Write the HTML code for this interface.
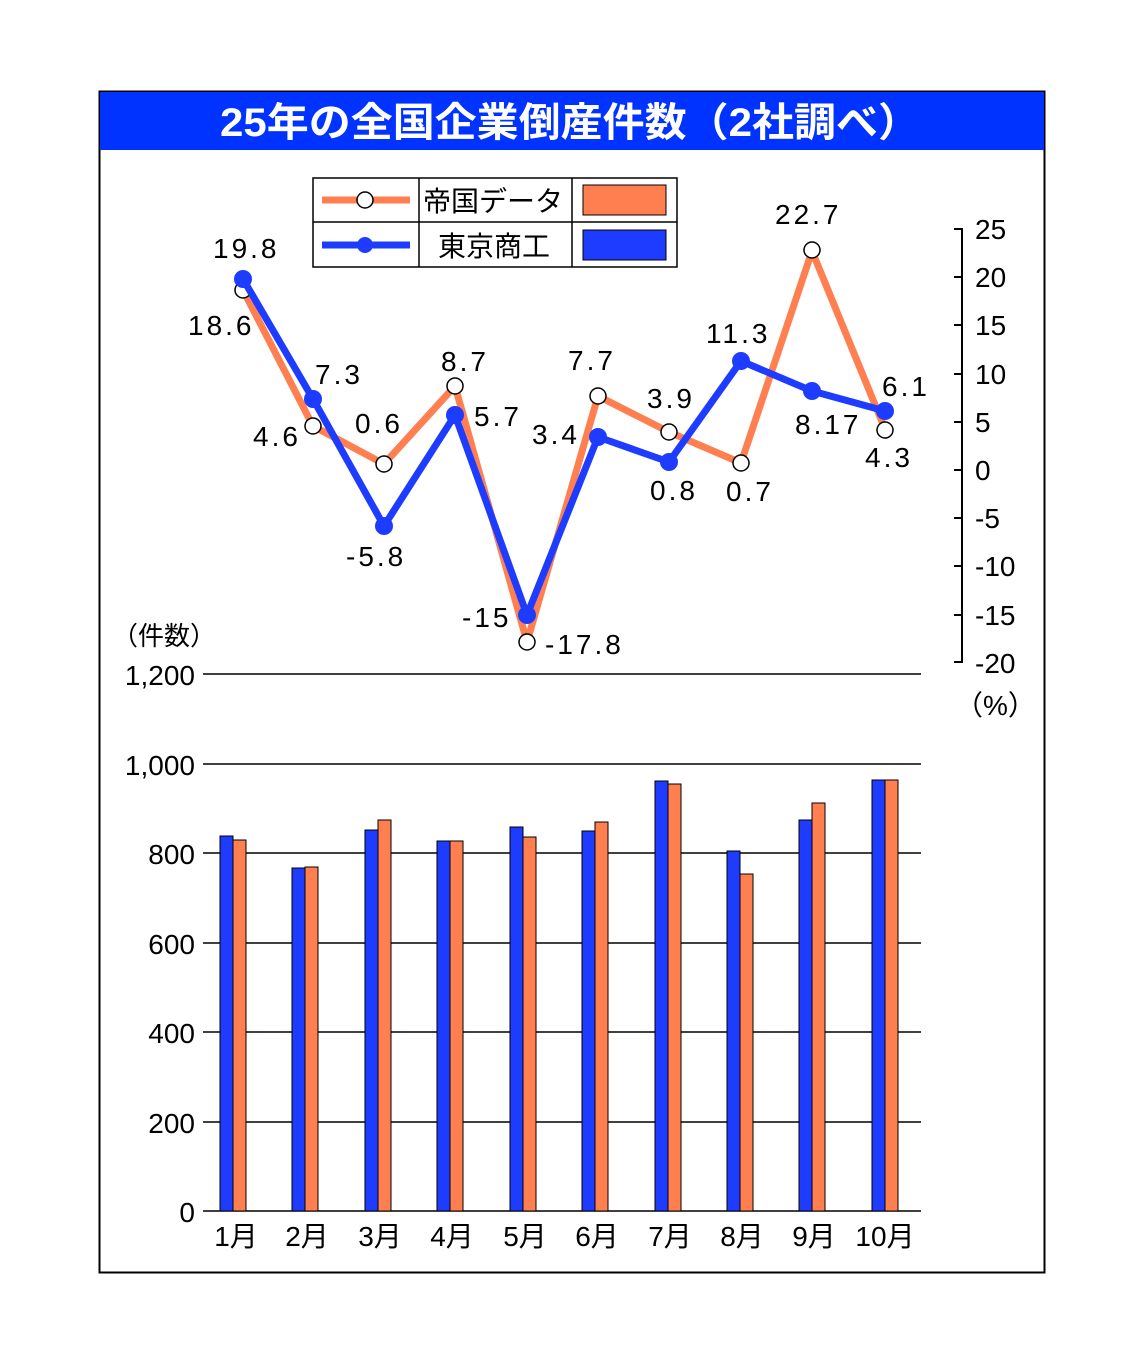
<!DOCTYPE html>
<html><head><meta charset="utf-8"><style>
html,body{margin:0;padding:0;background:#fff}
svg{display:block}
text{font-family:"Liberation Sans","Noto Sans CJK JP",sans-serif;fill:#000}
</style></head><body>
<svg width="1143" height="1364" viewBox="0 0 1143 1364" xmlns="http://www.w3.org/2000/svg">
<rect x="99.5" y="91.5" width="945" height="1181" fill="#fff" stroke="#000" stroke-width="2"/>
<rect x="100" y="92" width="944" height="58" fill="#0033ff"/>
<text x="570" y="136" text-anchor="middle" font-size="40" font-weight="bold" style="fill:#fff" textLength="700" lengthAdjust="spacingAndGlyphs">25年の全国企業倒産件数（2社調べ）</text>

<g stroke="#000" stroke-width="2">
<line x1="962" y1="228" x2="962" y2="663"/>
<line x1="954" y1="229" x2="962" y2="229"/><line x1="954" y1="277" x2="962" y2="277"/>
<line x1="954" y1="325" x2="962" y2="325"/><line x1="954" y1="374" x2="962" y2="374"/>
<line x1="954" y1="422" x2="962" y2="422"/><line x1="954" y1="470" x2="962" y2="470"/>
<line x1="954" y1="518" x2="962" y2="518"/><line x1="954" y1="566" x2="962" y2="566"/>
<line x1="954" y1="615" x2="962" y2="615"/><line x1="954" y1="662" x2="962" y2="662"/>
</g>
<g font-size="28">
<text x="975" y="239">25</text><text x="975" y="287">20</text><text x="975" y="335">15</text>
<text x="975" y="384">10</text><text x="975" y="432">5</text><text x="975" y="480">0</text>
<text x="975" y="528">-5</text><text x="975" y="576">-10</text><text x="975" y="625">-15</text>
<text x="975" y="673">-20</text><text x="955" y="715">（%）</text>
</g>

<g stroke="#000" stroke-width="1.5">
<line x1="203" y1="674" x2="921" y2="674"/><line x1="203" y1="764" x2="921" y2="764"/>
<line x1="203" y1="853" x2="921" y2="853"/><line x1="203" y1="943" x2="921" y2="943"/>
<line x1="203" y1="1032" x2="921" y2="1032"/><line x1="203" y1="1122" x2="921" y2="1122"/>
<line x1="203" y1="1211" x2="921" y2="1211"/>
</g>
<g font-size="28" text-anchor="end">
<text x="195" y="685">1,200</text><text x="195" y="775">1,000</text><text x="195" y="864">800</text>
<text x="195" y="954">600</text><text x="195" y="1043">400</text><text x="195" y="1133">200</text>
<text x="195" y="1222">0</text>
</g>
<text x="112" y="645" font-size="26">（件数）</text>

<g stroke="#000" stroke-width="1">
<rect x="220" y="836" width="13" height="375" fill="#1e3cff"/><rect x="233" y="840" width="13" height="371" fill="#ff7f50"/>
<rect x="292" y="868" width="13" height="343" fill="#1e3cff"/><rect x="305" y="867" width="13" height="344" fill="#ff7f50"/>
<rect x="365" y="830" width="13" height="381" fill="#1e3cff"/><rect x="378" y="820" width="13" height="391" fill="#ff7f50"/>
<rect x="437" y="841" width="13" height="370" fill="#1e3cff"/><rect x="450" y="841" width="13" height="370" fill="#ff7f50"/>
<rect x="510" y="827" width="13" height="384" fill="#1e3cff"/><rect x="523" y="837" width="13" height="374" fill="#ff7f50"/>
<rect x="582" y="831" width="13" height="380" fill="#1e3cff"/><rect x="595" y="822" width="13" height="389" fill="#ff7f50"/>
<rect x="655" y="781" width="13" height="430" fill="#1e3cff"/><rect x="668" y="784" width="13" height="427" fill="#ff7f50"/>
<rect x="727" y="851" width="13" height="360" fill="#1e3cff"/><rect x="740" y="874" width="13" height="337" fill="#ff7f50"/>
<rect x="799" y="820" width="13" height="391" fill="#1e3cff"/><rect x="812" y="803" width="13" height="408" fill="#ff7f50"/>
<rect x="872" y="780" width="13" height="431" fill="#1e3cff"/><rect x="885" y="780" width="13" height="431" fill="#ff7f50"/>
</g>
<g font-size="28" text-anchor="middle">
<text x="236" y="1246">1月</text><text x="307" y="1246">2月</text><text x="380" y="1246">3月</text>
<text x="452" y="1246">4月</text><text x="525" y="1246">5月</text><text x="597" y="1246">6月</text>
<text x="670" y="1246">7月</text><text x="742" y="1246">8月</text><text x="814" y="1246">9月</text>
<text x="885" y="1246">10月</text>
</g>

<polyline fill="none" stroke="#ff7f50" stroke-width="7" stroke-linejoin="round"
 points="243,290 313,426 384,464 455,386 527,642 598,396 669,432 741,463 812,251 885,429"/>
<g fill="#fff" stroke="#000" stroke-width="1.5">
<circle cx="243" cy="290" r="8"/><circle cx="313" cy="426" r="8"/><circle cx="384" cy="464" r="8"/>
<circle cx="455" cy="386" r="8"/><circle cx="527" cy="642" r="8"/><circle cx="598" cy="396" r="8"/>
<circle cx="669" cy="432" r="8"/><circle cx="741" cy="463" r="8"/><circle cx="812" cy="250" r="8"/>
<circle cx="885" cy="430" r="8"/>
</g>
<polyline fill="none" stroke="#1e3cff" stroke-width="7" stroke-linejoin="round"
 points="243,279 313,399 384,526 455,415 527,615 598,437 669,462 741,361 812,391 885,411"/>
<g fill="#1e3cff">
<circle cx="243" cy="279" r="9"/><circle cx="313" cy="399" r="9"/><circle cx="384" cy="526" r="9"/>
<circle cx="455" cy="415" r="9"/><circle cx="527" cy="615" r="9"/><circle cx="598" cy="437" r="9"/>
<circle cx="669" cy="462" r="9"/><circle cx="741" cy="361" r="9"/><circle cx="812" cy="391" r="9"/>
<circle cx="885" cy="411" r="9"/>
</g>
<g font-size="28" letter-spacing="3">
<text x="213" y="258">19.8</text><text x="188" y="335">18.6</text>
<text x="315" y="384">7.3</text><text x="253" y="446">4.6</text>
<text x="355" y="433">0.6</text><text x="346" y="566">-5.8</text>
<text x="441" y="371">8.7</text><text x="474" y="426">5.7</text>
<text x="462" y="627">-15</text><text x="545" y="654">-17.8</text>
<text x="568" y="370">7.7</text><text x="532" y="444">3.4</text>
<text x="647" y="408">3.9</text><text x="650" y="500">0.8</text>
<text x="726" y="501">0.7</text><text x="706" y="343">11.3</text>
<text x="775" y="224">22.7</text><text x="795" y="434">8.17</text>
<text x="882" y="396">6.1</text><text x="865" y="467">4.3</text>
</g>

<g stroke="#000" stroke-width="1.5" fill="#fff">
<rect x="313" y="178" width="364" height="89"/>
<line x1="313" y1="222" x2="677" y2="222"/>
<line x1="419" y1="178" x2="419" y2="267"/>
<line x1="572" y1="178" x2="572" y2="267"/>
</g>
<line x1="322" y1="200" x2="410" y2="200" stroke="#ff7f50" stroke-width="7"/>
<circle cx="365" cy="200" r="8" fill="#fff" stroke="#000" stroke-width="1.5"/>
<line x1="322" y1="245" x2="410" y2="245" stroke="#1e3cff" stroke-width="7"/>
<circle cx="365" cy="245" r="8" fill="#1e3cff"/>
<text x="423" y="211" font-size="28">帝国データ</text>
<text x="438" y="256" font-size="28">東京商工</text>
<rect x="583" y="185" width="83" height="30" fill="#ff7f50" stroke="#000" stroke-width="1"/>
<rect x="583" y="230" width="83" height="30" fill="#1e3cff" stroke="#000" stroke-width="1"/>
</svg>
</body></html>
